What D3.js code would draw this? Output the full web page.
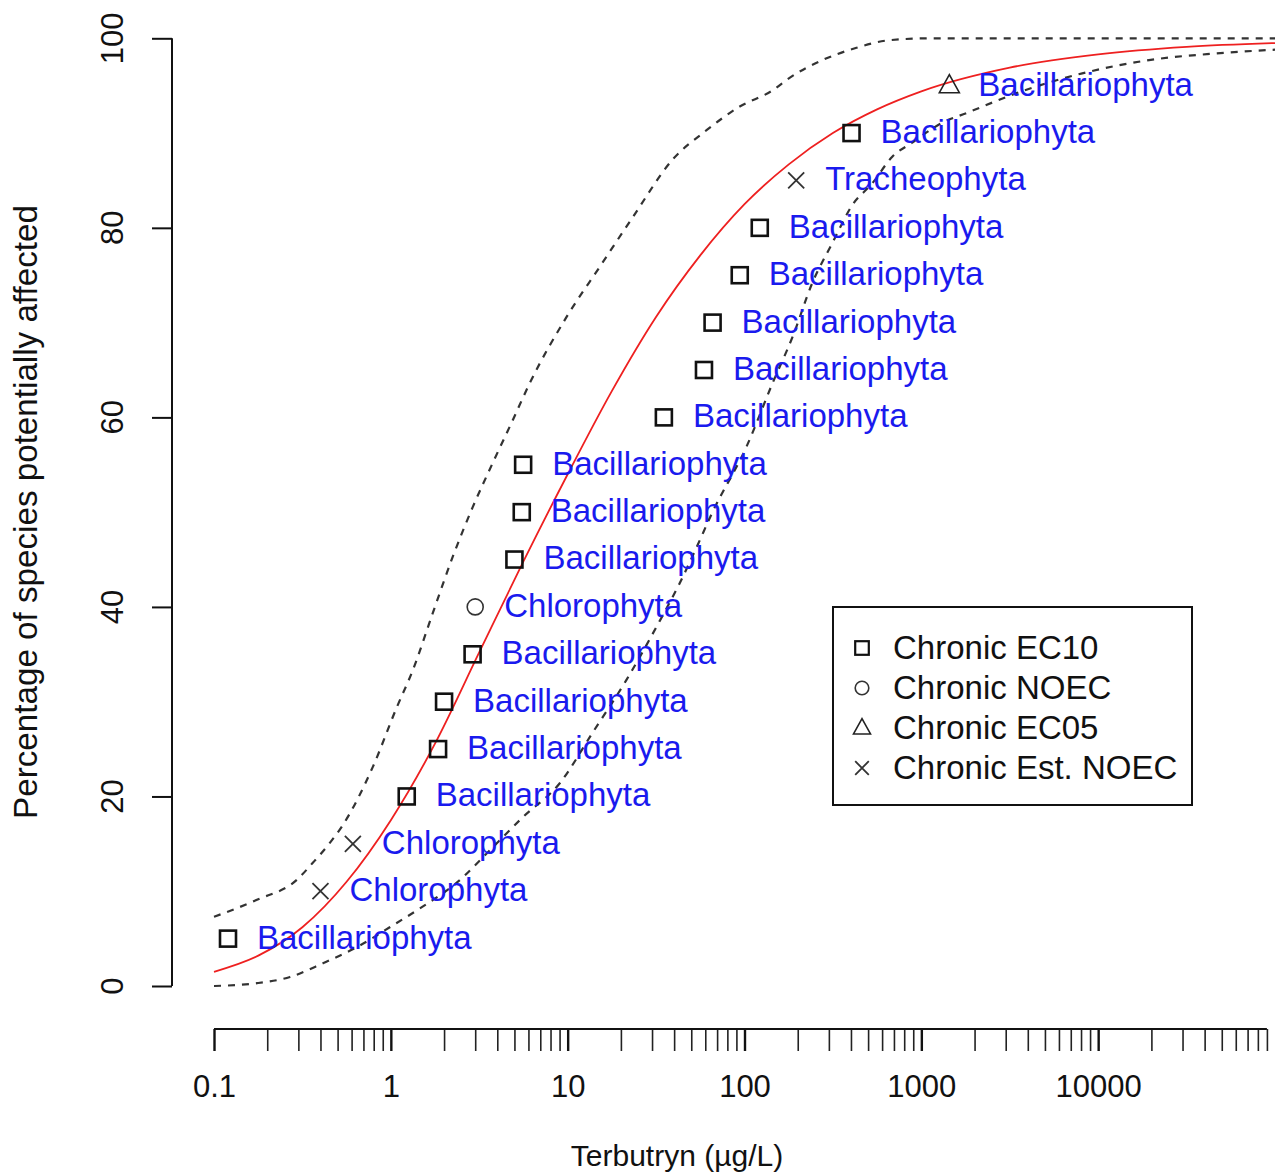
<!DOCTYPE html>
<html>
<head>
<meta charset="utf-8">
<script src="https://cdn.jsdelivr.net/npm/d3@7"></script>
<style>
  body { margin: 0; background: #fff; }
  svg { display: block; }
  text { font-family: "Liberation Sans", Arial, sans-serif; }
</style>
</head>
<body>
<svg id="chart" width="1283" height="1175"></svg>
<script>
// Species sensitivity data for terbutryn (µg/L) and the share of species affected (%)
const species = ["Bacillariophyta", "Chlorophyta", "Chlorophyta", "Bacillariophyta", "Bacillariophyta",
  "Bacillariophyta", "Bacillariophyta", "Chlorophyta", "Bacillariophyta", "Bacillariophyta",
  "Bacillariophyta", "Bacillariophyta", "Bacillariophyta", "Bacillariophyta", "Bacillariophyta",
  "Bacillariophyta", "Tracheophyta", "Bacillariophyta", "Bacillariophyta"];
const conc = [0.12, 0.40, 0.61, 1.23, 1.85, 2.0, 2.9, 3.0, 5.0, 5.5, 5.6, 35, 59, 66, 94, 122, 196, 403, 1440];
const pct = [5, 10, 15, 20, 25, 30, 35, 40, 45, 50, 55, 60, 65, 70, 75, 80, 85, 90, 95];
const endpoint = ["EC10", "EstNOEC", "EstNOEC", "EC10", "EC10", "EC10", "EC10", "NOEC", "EC10", "EC10",
  "EC10", "EC10", "EC10", "EC10", "EC10", "EC10", "EstNOEC", "EC10", "EC05"];

// Fitted distribution curve
const fitConc = [0.1, 0.178, 0.316, 0.562, 1, 1.78, 3.16, 5.62, 10, 17.8, 31.6, 56.2, 100, 178, 316, 562,
  1000, 3162, 10000, 31623, 100000];
const fitPct = [1.5, 3.2, 6.2, 11.0, 17.5, 25.6, 35.2, 44.8, 54.0, 62.8, 70.6, 77.1, 82.5, 86.7, 90.0, 92.5,
  94.4, 96.9, 98.3, 99.1, 99.5];

// Confidence limits of the fit
const upperConc = [0.1, 0.175, 0.294, 0.362, 0.452, 0.536, 0.79, 1.08, 1.33, 1.73, 2.24, 2.9, 3.77, 4.89,
  6.1, 9.86, 15.2, 23.3, 39.2, 61, 94, 144, 179, 276, 430, 659, 1150, 100000];
const upperPct = [7.3, 9.1, 11.2, 13.0, 15.1, 17.0, 23.1, 29.4, 33.3, 39.4, 45.3, 50.5, 55.2, 59.7,
  63.6, 70.6, 75.9, 81.1, 87.2, 90.3, 92.8, 94.5, 95.8, 97.7, 99.0, 99.8, 100, 100];
const lowerConc = [0.1, 0.175, 0.269, 0.413, 0.643, 0.986, 1.52, 2.36, 3.62, 5.57, 9.02, 13.8, 21.5, 33.1,
  43, 53.6, 65.9, 102.6, 144, 187, 242, 314, 407, 528, 685, 889, 1315, 1795, 3443, 8128, 19410, 46450, 100000];
const lowerPct = [0, 0.3, 0.95, 2.4, 4.1, 6.2, 8.4, 10.9, 14.3, 17.8, 21.4, 26.7, 32.3, 38.5,
  42.5, 46.3, 50.0, 56.9, 63.6, 68.5, 74.2, 78.4, 82.4, 84.7, 87.5, 89.0, 91.1, 92.1, 94.2, 96.3, 97.7, 98.4, 98.8];

// Axis ticks
const xMajorTicks = [0.1, 1, 10, 100, 1000, 10000];
const xTickLabels = ["0.1", "1", "10", "100", "1000", "10000"];
const yTicks = [0, 20, 40, 60, 80, 100];

const legendKeys = ["EC10", "NOEC", "EC05", "EstNOEC"];
const legendLabels = ["Chronic EC10", "Chronic NOEC", "Chronic EC05", "Chronic Est. NOEC"];

const svg = d3.select("#chart");
const x = d3.scaleLog().domain([0.1, 100000]).range([214, 1275]);
const y = d3.scaleLinear().domain([0, 100]).range([986, 38.3]);

// minor ticks 2..9 in every decade up to 90000
const xMinorTicks = [];
for (let d = 0.1; d < 100000; d *= 10) {
  for (let m = 2; m <= 9; m++) xMinorTicks.push(+(d * m).toPrecision(3));
}

// ---- x axis ----
const xAxisY = 1029;
const gxMinor = svg.append("g").attr("transform", `translate(0,${xAxisY})`)
  .call(d3.axisBottom(x).tickValues(xMinorTicks).tickSize(22).tickFormat(""));
gxMinor.select(".domain").remove();
gxMinor.selectAll("line").attr("stroke", "#222").attr("stroke-width", 1.6);

const gxMajor = svg.append("g").attr("transform", `translate(0,${xAxisY})`)
  .call(d3.axisBottom(x).tickValues(xMajorTicks).tickSize(22).tickPadding(24)
    .tickFormat((d, i) => xTickLabels[i]));
gxMajor.select(".domain").remove();
gxMajor.selectAll("line").attr("stroke", "#111").attr("stroke-width", 2.4);
gxMajor.selectAll("text").attr("font-size", 31).attr("fill", "#111")
  .attr("font-family", "'Liberation Sans', Arial, sans-serif");

svg.append("line")
  .attr("x1", x(0.1)).attr("x2", x(90000))
  .attr("y1", xAxisY).attr("y2", xAxisY)
  .attr("stroke", "#111").attr("stroke-width", 2);

svg.append("text")
  .attr("x", 677).attr("y", 1166)
  .attr("text-anchor", "middle")
  .attr("font-size", 30).attr("fill", "#111")
  .text("Terbutryn (µg/L)");

// ---- y axis ----
const yAxisX = 172;
const gy = svg.append("g").attr("transform", `translate(${yAxisX},0)`)
  .call(d3.axisLeft(y).tickValues(yTicks).tickSize(20).tickFormat(""));
gy.select(".domain").remove();
gy.selectAll("line").attr("stroke", "#111").attr("stroke-width", 2);
svg.append("line")
  .attr("x1", yAxisX).attr("x2", yAxisX)
  .attr("y1", y(0)).attr("y2", y(100))
  .attr("stroke", "#111").attr("stroke-width", 2);

svg.append("g").selectAll("text").data(yTicks).join("text")
  .attr("transform", d => `translate(123,${y(d)}) rotate(-90)`)
  .attr("text-anchor", "middle")
  .attr("font-size", 31).attr("fill", "#111")
  .text(d => d);

svg.append("text")
  .attr("transform", "translate(37,512) rotate(-90)")
  .attr("text-anchor", "middle")
  .attr("font-size", 33.2).attr("fill", "#111")
  .text("Percentage of species potentially affected");

// ---- curves ----
const line = d3.line().x(d => x(d[0])).y(d => y(d[1])).curve(d3.curveMonotoneX);

svg.append("path")
  .attr("d", line(upperConc.map((c, i) => [c, upperPct[i]])))
  .attr("fill", "none").attr("stroke", "#333").attr("stroke-width", 2.2)
  .attr("stroke-dasharray", "7,7");
svg.append("path")
  .attr("d", line(lowerConc.map((c, i) => [c, lowerPct[i]])))
  .attr("fill", "none").attr("stroke", "#333").attr("stroke-width", 2.2)
  .attr("stroke-dasharray", "7,7");
svg.append("path")
  .attr("d", line(fitConc.map((c, i) => [c, fitPct[i]])))
  .attr("fill", "none").attr("stroke", "#ee2020").attr("stroke-width", 1.8);

// ---- point symbols ----
function drawSymbol(g, key, s) {
  if (key === "EC10") {
    g.append("rect").attr("x", -8 * s).attr("y", -8 * s).attr("width", 16 * s).attr("height", 16 * s)
      .attr("fill", "none").attr("stroke", "#111").attr("stroke-width", 2.6 * s);
  } else if (key === "NOEC") {
    g.append("circle").attr("r", 8 * s)
      .attr("fill", "none").attr("stroke", "#333").attr("stroke-width", 1.6);
  } else if (key === "EC05") {
    g.append("path").attr("d", `M0,${-11 * s}L${10 * s},${7 * s}L${-10 * s},${7 * s}Z`)
      .attr("fill", "none").attr("stroke", "#222").attr("stroke-width", 1.6);
  } else {
    g.append("path").attr("d", `M${-8 * s},${-8 * s}L${8 * s},${8 * s}M${-8 * s},${8 * s}L${8 * s},${-8 * s}`)
      .attr("fill", "none").attr("stroke", "#333").attr("stroke-width", 1.8);
  }
}

const pts = svg.append("g").selectAll("g").data(pct.map((p, i) => i)).join("g")
  .attr("transform", i => `translate(${x(conc[i])},${y(pct[i])})`);
pts.each(function (i) { drawSymbol(d3.select(this), endpoint[i], 1); });
pts.append("text")
  .attr("x", 29).attr("dy", "0.3em")
  .attr("font-size", 33).attr("fill", "#1a1aee")
  .text(i => species[i]);

// ---- legend ----
const lg = svg.append("g");
lg.append("rect").attr("x", 833).attr("y", 607).attr("width", 359).attr("height", 198)
  .attr("fill", "#fff").attr("stroke", "#111").attr("stroke-width", 2);
legendKeys.forEach((k, i) => {
  const row = lg.append("g").attr("transform", `translate(862,${648 + i * 40})`);
  drawSymbol(row, k, 0.85);
  row.append("text").attr("x", 31).attr("dy", "0.33em")
    .attr("font-size", 33).attr("fill", "#111").text(legendLabels[i]);
});
</script>
</body>
</html>
